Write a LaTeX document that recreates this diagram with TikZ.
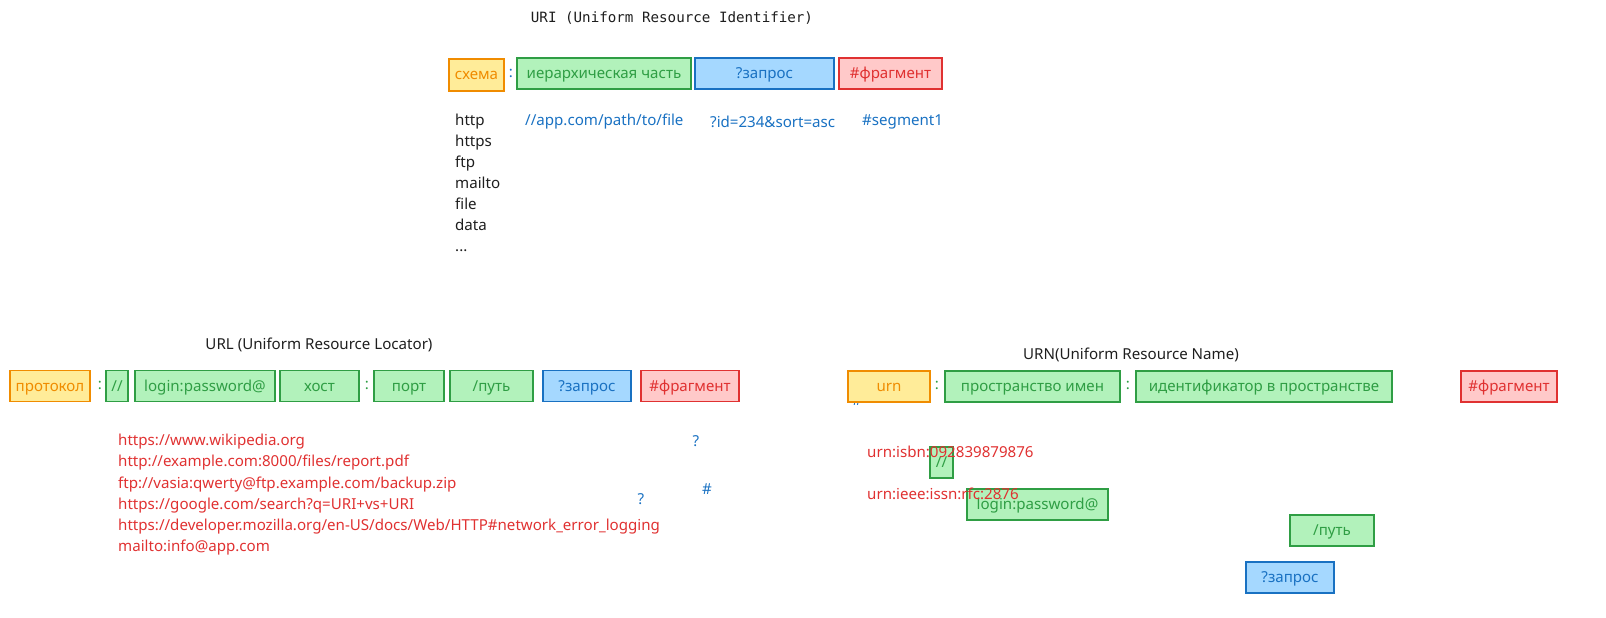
\documentclass[tikz,border=0pt]{standalone}
\usepackage{fontspec}
\setmainfont{Noto Sans}
\setmonofont{DejaVu Sans Mono}
\usetikzlibrary{positioning}
\definecolor{exOrange}{HTML}{F08C00}
\definecolor{exOrangeFill}{HTML}{FFEC99}
\definecolor{exGreen}{HTML}{2F9E44}
\definecolor{exGreenFill}{HTML}{B2F2BB}
\definecolor{exBlue}{HTML}{1971C2}
\definecolor{exBlueFill}{HTML}{A5D8FF}
\definecolor{exRed}{HTML}{E03131}
\definecolor{exRedFill}{HTML}{FFC9C9}
\definecolor{exInk}{HTML}{1E1E1E}
\tikzset{
  txt/.style={inner sep=0pt, font=\fontsize{15.1}{21}\selectfont},
  part/.style={txt, line width=1.8pt, minimum height=31pt, text height=11pt, text depth=1pt},
  schemebox/.style={part, draw=exOrange, fill=exOrangeFill, text=exOrange},
  pathbox/.style={part, draw=exGreen, fill=exGreenFill, text=exGreen},
  querybox/.style={part, draw=exBlue, fill=exBlueFill, text=exBlue},
  fragbox/.style={part, draw=exRed, fill=exRedFill, text=exRed},
  sep/.style={txt, text=exGreen},
  sample/.style={txt, anchor=west, text=exRed},
}

\begin{document}
\begin{tikzpicture}[x=1pt,y=-1pt]
        \useasboundingbox (0,0) rectangle (1606,618);
        % URI
        \node[txt, text=exInk, font=\ttfamily\fontsize{14.2}{17}\selectfont] (uriTitle) at (672,18) {URI (Uniform Resource Identifier)};
        \node[schemebox, minimum width=55pt, minimum height=32pt] (uriScheme) at (476.5,75) {схема};
        \node[sep, text=exBlue] (uriColon) at (511,73) {:};
        \node[pathbox, minimum width=174pt] (uriHier) at (604,73.5) {иерархическая часть};
        \node[querybox, minimum width=139pt] (uriQuery) at (764.5,73.5) {?запрос};
        \node[fragbox, minimum width=103pt] (uriFrag) at (890.5,73.5) {\#фрагмент};
        \node[txt, anchor=north west, align=left, text=exInk] (uriSchemes) at (455,114) {http\\https\\ftp\\mailto\\file\\data\\...};
        \node[txt, anchor=west, text=exBlue] (uriHierEx) at (525,122) {//app.com/path/to/file};
        \node[txt, anchor=west, text=exBlue] (uriQueryEx) at (710,122) {?id=234\&sort=asc};
        \node[txt, anchor=west, text=exBlue] (uriFragEx) at (862,122) {\#segment1};

        % URL
        \node[txt, text=exInk] (urlTitle) at (319,345) {URL (Uniform Resource Locator)};
        \node[schemebox, minimum width=80pt] (urlProto) at (50,386) {протокол};
        \node[sep] (urlColonA) at (100,385) {:};
        \node[pathbox, minimum width=22pt] (urlSlash) at (117,386) {//};
        \node[pathbox, minimum width=140pt] (urlLogin) at (205,386) {login:password@};
        \node[pathbox, minimum width=79pt] (urlHost) at (319.5,386) {хост};
        \node[sep] (urlColonB) at (367,385) {:};
        \node[pathbox, minimum width=70pt] (urlPort) at (409,386) {порт};
        \node[pathbox, minimum width=83pt] (urlPath) at (491.5,386) {/путь};
        \node[querybox, minimum width=88pt] (urlQuery) at (587,386) {?запрос};
        \node[fragbox, minimum width=98pt] (urlFrag) at (690,386) {\#фрагмент};
        \node[sample] (urlExA) at (118,442) {https://www.wikipedia.org};
        \node[sample] (urlExB) at (118,463) {http://example.com:8000/files/report.pdf};
        \node[sample] (urlExC) at (118,485) {ftp://vasia:qwerty@ftp.example.com/backup.zip};
        \node[sample] (urlExD) at (118,506) {https://google.com/search?q=URI+vs+URI};
        \node[sample] (urlExE) at (118,527) {https://developer.mozilla.org/en-US/docs/Web/HTTP\#network\_error\_logging};
        \node[sample] (urlExF) at (118,548) {mailto:info@app.com};
        \node[txt, text=exBlue] (urlMarkA) at (696,441) {?};
        \node[txt, text=exBlue] (urlMarkB) at (707,489) {\#};
        \node[txt, text=exBlue] (urlMarkC) at (641,499) {?};

        % URN
        \node[txt, text=exInk] (urnTitle) at (1131,355) {URN(Uniform Resource Name)};
        \node[txt, text=exBlue] (urnMark) at (857,400) {\#};
        \node[schemebox, minimum width=82pt] (urnScheme) at (889,386.5) {urn};
        \node[sep] (urnColonA) at (937,385) {:};
        \node[pathbox, minimum width=175pt] (urnSpace) at (1032.5,386.5) {пространство имен};
        \node[sep] (urnColonB) at (1128,385) {:};
        \node[pathbox, minimum width=256pt] (urnId) at (1264,386.5) {идентификатор в пространстве};
        \node[fragbox, minimum width=96pt] (urnFrag) at (1509,386.5) {\#фрагмент};
        \node[pathbox, minimum width=23pt] (urnSlash) at (941.5,462.5) {//};
        \node[pathbox, minimum width=141pt] (urnLogin) at (1037.5,504.5) {login:password@};
        \node[pathbox, minimum width=84pt] (urnPath) at (1332,530.5) {/путь};
        \node[querybox, minimum width=88pt] (urnQuery) at (1290,577.5) {?запрос};
        \node[sample] (urnExA) at (867,452) {urn:isbn:092839879876};
        \node[sample] (urnExB) at (867,494) {urn:ieee:issn:rfc:2876};
\end{tikzpicture}
\end{document}
